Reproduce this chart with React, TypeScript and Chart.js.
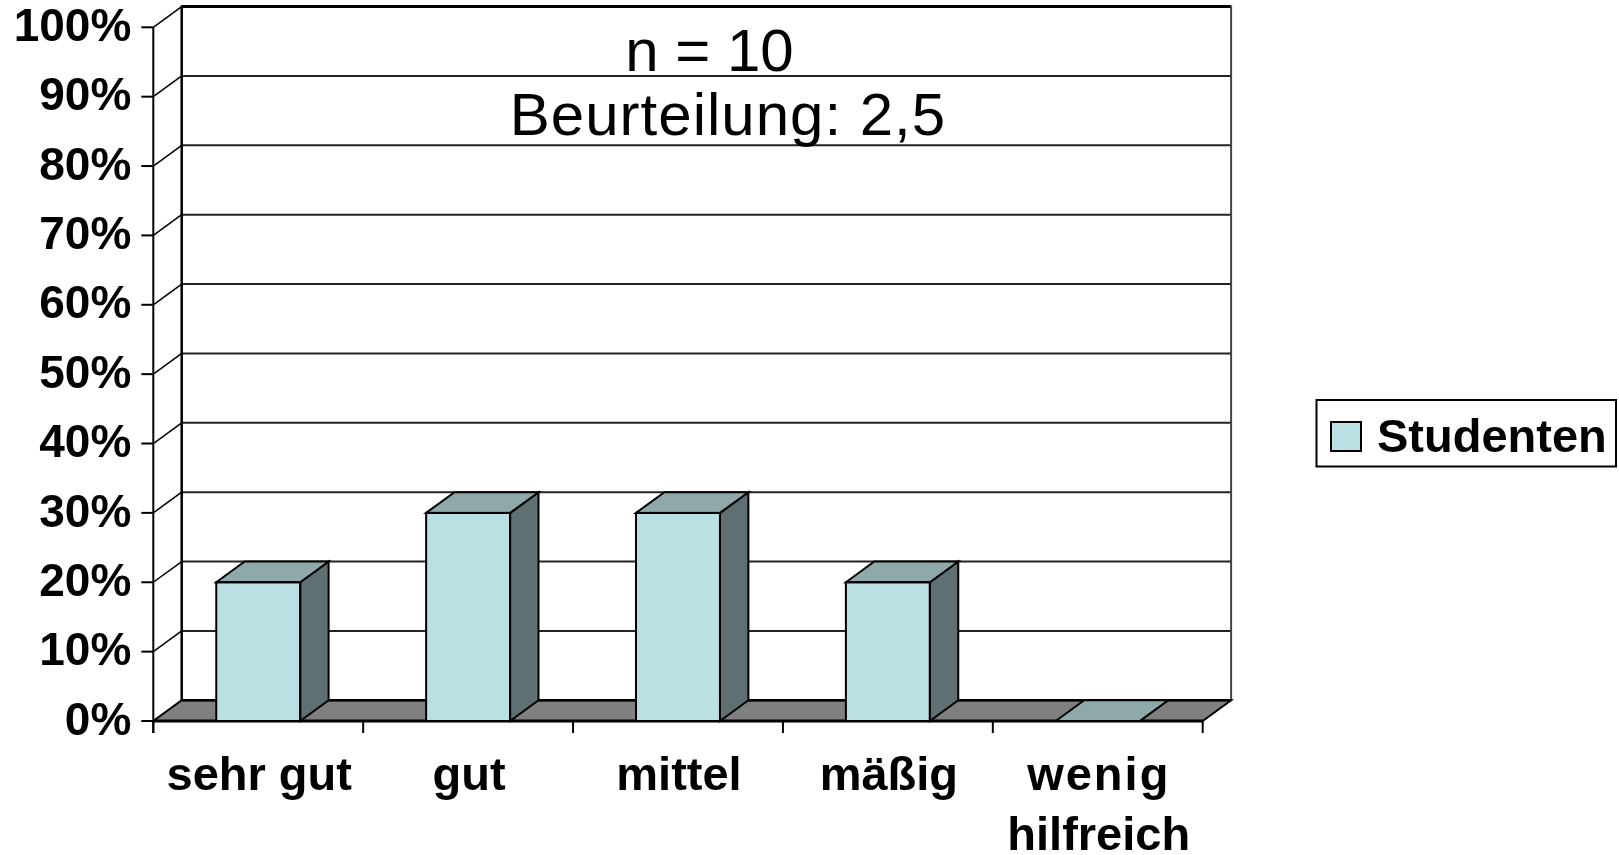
import React, { useEffect, useRef } from "react";
import { Chart, registerables } from "chart.js";

Chart.register(...registerables);

// ---- data ----
const categories: (string | string[])[] = ["sehr gut", "gut", "mittel", "mäßig", ["wenig", "hilfreich"]];
const studenten: number[] = [20, 30, 30, 20, 0];
const yTicks: number[] = [0, 10, 20, 30, 40, 50, 60, 70, 80, 90, 100];
const yTickLabels: string[] = yTicks.map((v) => v + "%");
const seriesName = "Studenten";
const titleLines: string[] = ["n = 10", "Beurteilung: 2,5"];

// ---- styles ----
const FONT = '"Liberation Sans", Arial, Helvetica, sans-serif';
const FRONT = "#BBE0E3";
const TOP = "#8FA9AB";
const SIDE = "#5E7072";
const FLOOR = "#808080";
const DX = 28.4;
const DY = -20.7;

function line(ctx: CanvasRenderingContext2D, x1: number, y1: number, x2: number, y2: number, w: number, c = "#000") {
  ctx.beginPath();
  ctx.moveTo(x1, y1);
  ctx.lineTo(x2, y2);
  ctx.lineWidth = w;
  ctx.strokeStyle = c;
  ctx.stroke();
}

function poly(ctx: CanvasRenderingContext2D, pts: number[][], fill: string, w = 2) {
  ctx.beginPath();
  ctx.moveTo(pts[0][0], pts[0][1]);
  for (let i = 1; i < pts.length; i++) ctx.lineTo(pts[i][0], pts[i][1]);
  ctx.closePath();
  ctx.fillStyle = fill;
  ctx.fill();
  ctx.lineWidth = w;
  ctx.strokeStyle = "#000";
  ctx.lineJoin = "miter";
  ctx.stroke();
}

const threeD = {
  id: "threeD",
  beforeDatasetsDraw(chart: any) {
    const ctx: CanvasRenderingContext2D = chart.ctx;
    const xs = chart.scales.x;
    const ys = chart.scales.y;
    const L = xs.left;
    const R = xs.right;
    const T = ys.getPixelForValue(yTicks[yTicks.length - 1]);
    const B = ys.getPixelForValue(0);
    ctx.save();

    // back wall gridlines
    yTicks.forEach((v, i) => {
      if (v === 0) return;
      const py = ys.getPixelForValue(v) + DY;
      line(ctx, L + DX, py, R + DX, py, i === yTicks.length - 1 ? 3 : 2, i === yTicks.length - 1 ? "#000" : "#222");
    });
    // back wall verticals
    line(ctx, L + DX, T + DY - 1, L + DX, B + DY, 2.5);
    line(ctx, R + DX, T + DY - 1, R + DX, B + DY, 2, "#444");

    // left wall diagonals and tick marks
    yTicks.forEach((v) => {
      const py = ys.getPixelForValue(v);
      line(ctx, L, py, L + DX, py + DY, 1.5);
      line(ctx, L - 12, py, L, py, 2);
    });

    // floor
    poly(ctx, [[L, B], [R, B], [R + DX, B + DY], [L + DX, B + DY]], FLOOR, 2);
    line(ctx, L, B, R, B, 3);
    line(ctx, L + DX, B + DY, R + DX, B + DY, 2.5);

    // front axis line
    line(ctx, L, T, L, B + 12, 2);

    // x tick marks at category boundaries
    const n = categories.length;
    const cw = (R - L) / n;
    for (let k = 0; k <= n; k++) {
      const px = k === 0 ? L : xs.getPixelForValue(k - 1) + cw / 2;
      line(ctx, px, B, px, B + 12, 2);
    }

    // y tick labels
    ctx.fillStyle = "#000";
    ctx.font = `bold 46px ${FONT}`;
    ctx.textAlign = "right";
    ctx.textBaseline = "middle";
    yTicks.forEach((v, i) => {
      ctx.fillText(yTickLabels[i], L - 22, ys.getPixelForValue(v) + 1);
    });

    // x labels
    ctx.font = `bold 47px ${FONT}`;
    ctx.textAlign = "center";
    ctx.textBaseline = "alphabetic";
    categories.forEach((c, i) => {
      const px = xs.getPixelForValue(i);
      const lines = Array.isArray(c) ? c : [c];
      lines.forEach((t, j) => {
        (ctx as any).letterSpacing = t === "wenig" ? "2px" : "0px";
        ctx.fillText(t, px + 1, 790 + j * 60);
      });
    });
    (ctx as any).letterSpacing = "0px";

    // title text
    ctx.font = `60px ${FONT}`;
    ctx.fillText(titleLines[0], 709.5, 71);
    (ctx as any).letterSpacing = "1px";
    ctx.fillText(titleLines[1], 728, 135);
    (ctx as any).letterSpacing = "0px";

    ctx.restore();
  },
  afterDatasetsDraw(chart: any) {
    const ctx: CanvasRenderingContext2D = chart.ctx;
    const meta = chart.getDatasetMeta(0);
    ctx.save();
    meta.data.forEach((bar: any) => {
      const { x, y, base, width } = bar.getProps(["x", "y", "base", "width"], true);
      const xl = x - width / 2;
      const xr = x + width / 2;
      poly(ctx, [[xr, y], [xr + DX, y + DY], [xr + DX, base + DY], [xr, base]], SIDE, 2);
      poly(ctx, [[xl, y], [xl + DX, y + DY], [xr + DX, y + DY], [xr, y]], TOP, 2);
      if (base - y > 1) {
        ctx.lineWidth = 2;
        ctx.strokeStyle = "#000";
        ctx.strokeRect(xl, y, width, base - y);
      }
    });
    ctx.restore();
  },
  afterDraw(chart: any) {
    const ctx: CanvasRenderingContext2D = chart.ctx;
    ctx.save();
    ctx.fillStyle = "#fff";
    ctx.fillRect(1316.5, 400, 299.5, 66.5);
    ctx.lineWidth = 2;
    ctx.strokeStyle = "#000";
    ctx.strokeRect(1316.5, 400, 299.5, 66.5);
    ctx.fillStyle = FRONT;
    ctx.fillRect(1331, 422, 30, 29);
    ctx.strokeRect(1331, 422, 30, 29);
    ctx.fillStyle = "#000";
    ctx.font = `bold 47px ${FONT}`;
    ctx.textAlign = "left";
    ctx.textBaseline = "alphabetic";
    ctx.fillText(seriesName, 1377, 452);
    ctx.restore();
  },
};

export default function App() {
  const ref = useRef<HTMLCanvasElement | null>(null);
  useEffect(() => {
    if (!ref.current) return;
    const chart = new Chart(ref.current, {
      type: "bar",
      data: {
        labels: categories as any,
        datasets: [
          {
            label: seriesName,
            data: studenten,
            backgroundColor: FRONT,
            borderColor: "#000",
            borderWidth: 0,
            borderSkipped: false,
            barPercentage: 0.4,
            categoryPercentage: 1.0,
          },
        ],
      },
      options: {
        responsive: false,
        animation: false,
        events: [],
        layout: { padding: { left: 153.3, right: 416.3, top: 27.3, bottom: 134 } },
        plugins: { legend: { display: false }, tooltip: { enabled: false }, title: { display: false } },
        scales: {
          x: { display: false, offset: true },
          y: { display: false, min: 0, max: 100 },
        },
      },
      plugins: [threeD],
    });
    return () => chart.destroy();
  }, []);
  return (
    <div style={{ position: "absolute", left: 0, top: 0, width: 1619, height: 855, background: "#fff" }}>
      <canvas ref={ref} width={1619} height={855} style={{ display: "block", width: 1619, height: 855 }} />
    </div>
  );
}
